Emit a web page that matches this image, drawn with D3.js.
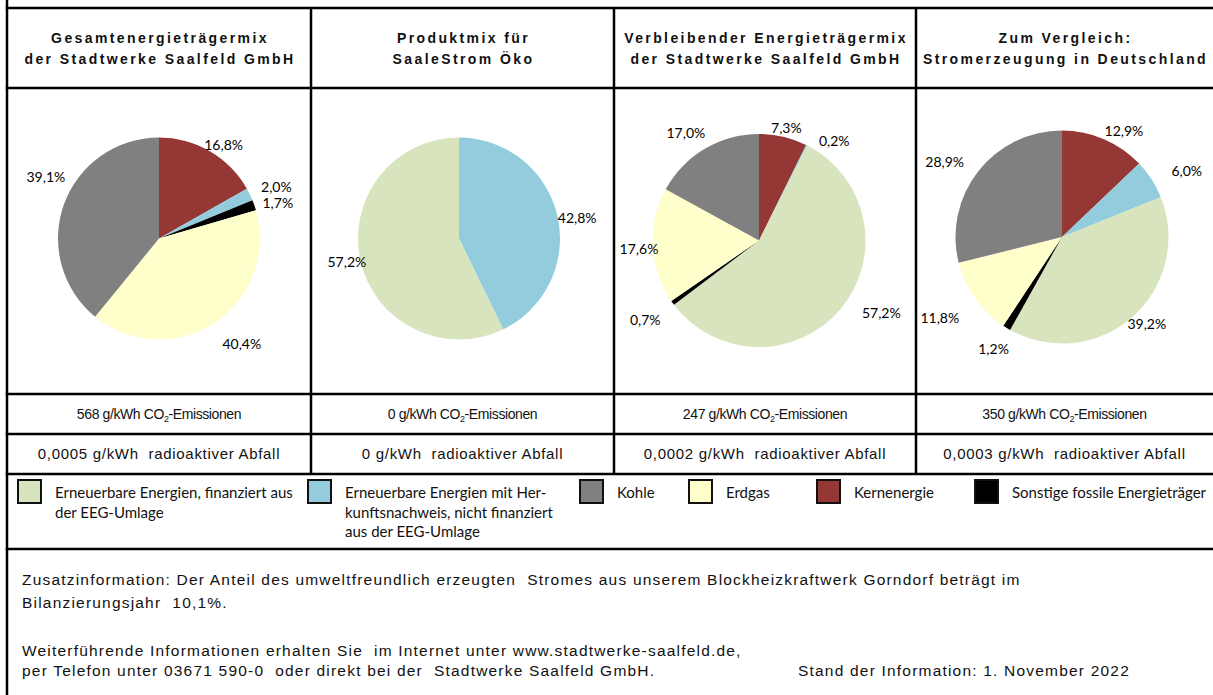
<!DOCTYPE html>
<html>
<head>
<meta charset="utf-8">
<script src="https://cdn.jsdelivr.net/npm/d3@7"></script>
<style>
  body { margin: 0; background: #fff; }
  svg { display: block; }
  text { white-space: pre; }
</style>
</head>
<body>
<div id="chart"></div>
<script>
(function () {
  'use strict';

  // slice order, clockwise from 12 o'clock
  var sliceKeys = ['kern', 'hkn', 'eeg', 'sonstige', 'erdgas', 'kohle'];
  var gesamtMix = [16.8, 2.0, 0, 1.7, 40.4, 39.1];
  var produktMix = [0, 42.8, 57.2, 0, 0, 0];
  var verbleibenderMix = [7.3, 0.2, 57.2, 0.7, 17.6, 17.0];
  var deutschlandMix = [12.9, 6.0, 39.2, 1.2, 11.8, 28.9];

  var titles = [
    ['Gesamtenergieträgermix', 'der Stadtwerke Saalfeld GmbH'],
    ['Produktmix für', 'SaaleStrom Öko'],
    ['Verbleibender Energieträgermix', 'der Stadtwerke Saalfeld GmbH'],
    ['Zum Vergleich:', 'Stromerzeugung in Deutschland']
  ];
  var co2 = ['568', '0', '247', '350'];
  var radioaktiv = ['0,0005', '0', '0,0002', '0,0003'];

  var legendKeys = ['eeg', 'hkn', 'kohle', 'erdgas', 'kern', 'sonstige'];
  var legendLabels = [
    ['Erneuerbare Energien, finanziert aus', 'der EEG-Umlage'],
    ['Erneuerbare Energien mit Her-', 'kunftsnachweis, nicht finanziert', 'aus der EEG-Umlage'],
    ['Kohle'],
    ['Erdgas'],
    ['Kernenergie'],
    ['Sonstige fossile Energieträger']
  ];

  var zusatz = [
    'Zusatzinformation: Der Anteil des umweltfreundlich erzeugten  Stromes aus unserem Blockheizkraftwerk Gorndorf beträgt im',
    'Bilanzierungsjahr  10,1%.'
  ];
  var kontakt = [
    'Weiterführende Informationen erhalten Sie  im Internet unter www.stadtwerke-saalfeld.de,',
    'per Telefon unter 03671 590-0  oder direkt bei der  Stadtwerke Saalfeld GmbH.'
  ];
  var stand = 'Stand der Information: 1. November 2022';

  var color = d3.scaleOrdinal()
    .domain(['eeg', 'hkn', 'kohle', 'erdgas', 'kern', 'sonstige'])
    .range(['#d7e4bd', '#93cddd', '#808080', '#ffffcc', '#953735', '#000000']);

  var W = 1213, H = 695;
  var colX = [7, 311, 614, 916, 1213];
  var rowY = [8, 88, 394, 434, 474, 549];
  var pieCx = [159, 459, 759, 1062];
  var pieCy = [238.5, 238.5, 240.5, 237];
  var pieR = [101, 101, 106.5, 106.5];
  var legendX = [18, 308, 580, 689, 817, 975];
  // per-label shifts from the automatic outside-end spot (Excel-style best fit)
  var labelNudge = [
    [[4, 10], [8, 2], [4, 5], [16, 4], [5, -19]],
    [[-4, 8], [10, -5]],
    [[0, 5], [20, 11], [23, -11], [-11, 5], [10, 2], [-9, 1]],
    [[13, 8], [18, 3], [0, -9], [-4, 6], [-16, 6], [-15, 5]]
  ];

  var ARIAL = '"Liberation Sans", Arial, sans-serif';
  var CALIBRI = 'Lato, "Open Sans", sans-serif';

  var svg = d3.select('#chart').append('svg').attr('width', W).attr('height', H);
  svg.append('rect').attr('width', W).attr('height', H).attr('fill', '#fff');

  var fmt = function (v) { return d3.format('.1f')(v).replace('.', ',') + '%'; };
  var pie = d3.pie().sort(null).value(function (d) { return d.value; });
  var mixes = [gesamtMix, produktMix, verbleibenderMix, deutschlandMix];

  mixes.forEach(function (mix, i) {
    var arcs = pie(mix.map(function (v, k) { return { key: sliceKeys[k], value: v }; }))
      .filter(function (d) { return d.value > 0; });
    var r = pieR[i];
    var arc = d3.arc().innerRadius(0).outerRadius(r);
    var g = svg.append('g').attr('transform', 'translate(' + pieCx[i] + ',' + pieCy[i] + ')');

    g.selectAll('path').data(arcs).enter().append('path')
      .attr('d', arc)
      .attr('fill', function (d) { return color(d.data.key); });

    // outside-end labels
    g.selectAll('text').data(arcs).enter().append('text')
      .attr('font-family', CALIBRI).attr('font-size', 14).attr('fill', '#000')
      .attr('text-anchor', 'middle').attr('dy', '0.36em')
      .text(function (d) { return fmt(d.value); })
      .each(function (d, j) {
        var w = this.getComputedTextLength(), h = 13;
        var a = (d.startAngle + d.endAngle) / 2;
        var s = Math.sin(a), c = Math.cos(a);
        var rr = r + 4 + w / 2 * Math.abs(s) + h / 2 * Math.abs(c);
        var n = labelNudge[i][j] || [0, 0];
        d3.select(this).attr('x', rr * s + n[0]).attr('y', -rr * c + n[1]);
      });
  });

  // table grid
  var grid = svg.append('g').attr('stroke', '#000').attr('stroke-width', 2.5);
  grid.append('line').attr('x1', colX[0]).attr('x2', colX[0]).attr('y1', 0).attr('y2', H);
  rowY.forEach(function (y) {
    grid.append('line').attr('x1', colX[0] - 1.25).attr('x2', W).attr('y1', y).attr('y2', y);
  });
  colX.slice(1, 4).forEach(function (x) {
    grid.append('line').attr('x1', x).attr('x2', x).attr('y1', rowY[0]).attr('y2', rowY[4]);
  });

  // header and value rows
  titles.forEach(function (t, i) {
    var cx = (colX[i] + colX[i + 1]) / 2 + 1;
    t.forEach(function (line, j) {
      svg.append('text').attr('x', cx).attr('y', 43 + j * 21)
        .attr('text-anchor', 'middle').attr('font-family', ARIAL)
        .attr('font-weight', 'bold').attr('font-size', 14).attr('letter-spacing', 2.4)
        .attr('fill', '#111').text(line);
    });

    var tc = svg.append('text').attr('x', cx - 1).attr('y', 419)
      .attr('text-anchor', 'middle').attr('font-family', ARIAL)
      .attr('font-size', 14).attr('letter-spacing', -0.4).attr('fill', '#111');
    tc.append('tspan').text(co2[i] + ' g/kWh CO');
    tc.append('tspan').attr('font-size', 9).attr('dy', 3).text('2');
    tc.append('tspan').attr('dy', -3).text('-Emissionen');

    svg.append('text').attr('x', cx - 1).attr('y', 459)
      .attr('text-anchor', 'middle').attr('font-family', ARIAL)
      .attr('font-size', 15).attr('letter-spacing', 0.7).attr('fill', '#111')
      .text(radioaktiv[i] + ' g/kWh  radioaktiver Abfall');
  });

  // legend
  legendKeys.forEach(function (k, i) {
    svg.append('rect').attr('x', legendX[i]).attr('y', 480).attr('width', 23).attr('height', 23)
      .attr('fill', color(k)).attr('stroke', '#111').attr('stroke-width', 2);
    legendLabels[i].forEach(function (line, j) {
      svg.append('text').attr('x', legendX[i] + 37).attr('y', 498 + j * 19.5)
        .attr('font-family', CALIBRI).attr('font-size', 15).attr('fill', '#111').text(line);
    });
  });

  // footnotes
  var foot = svg.append('g').attr('font-family', ARIAL).attr('font-size', 15.5)
    .attr('letter-spacing', 1.2).attr('fill', '#111');
  zusatz.forEach(function (line, j) {
    foot.append('text').attr('x', 22).attr('y', 585 + j * 23).text(line);
  });
  kontakt.forEach(function (line, j) {
    foot.append('text').attr('x', 22).attr('y', 656 + j * 20).text(line);
  });
  foot.append('text').attr('x', 798).attr('y', 676).text(stand);
})();
</script>
</body>
</html>
